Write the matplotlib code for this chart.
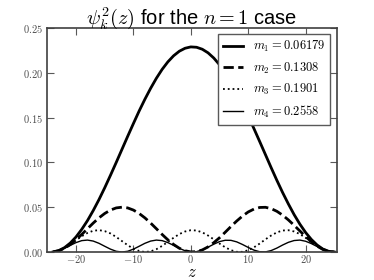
import matplotlib
matplotlib.use('Agg')
import matplotlib.pyplot as plt
from matplotlib.ticker import FuncFormatter

plt.rcParams['mathtext.fontset'] = 'cm'

# valores
z = [-24, -23, -22, -21, -20, -19, -18, -17, -16, -15, -14, -13, -12, -11, -10,
     -9, -8, -7, -6, -5, -4, -3, -2, -1, 0, 1, 2, 3, 4, 5, 6, 7, 8, 9, 10,
     11, 12, 13, 14, 15, 16, 17, 18, 19, 20, 21, 22, 23, 24, 25]

psi1 = [0.0001, 0.0016, 0.0049, 0.0100, 0.0168, 0.0253, 0.0351, 0.0463, 0.0585, 0.0717,
        0.0856, 0.0999, 0.1145, 0.1291, 0.1434, 0.1574, 0.1705, 0.1827, 0.1939, 0.2038,
        0.2122, 0.2190, 0.2241, 0.2274, 0.2289, 0.2285, 0.2263, 0.2223, 0.2165, 0.2090,
        0.2000, 0.1896, 0.1780, 0.1654, 0.1519, 0.1377, 0.1233, 0.1087, 0.0941, 0.0799,
        0.0663, 0.0536, 0.0417, 0.0311, 0.0218, 0.0140, 0.0078, 0.0033, 0.0008, 0.0]

psi2 = [0.0001, 0.0014, 0.0042, 0.0084, 0.0136, 0.0196, 0.0260, 0.0323, 0.0381, 0.0430,
        0.0468, 0.0492, 0.0500, 0.0492, 0.0468, 0.0430, 0.0381, 0.0323, 0.0260, 0.0196,
        0.0136, 0.0084, 0.0042, 0.0014, 0.0001, 0.0004, 0.0023, 0.0057, 0.0104, 0.0159,
        0.0221, 0.0285, 0.0346, 0.0401, 0.0447, 0.0479, 0.0497, 0.0499, 0.0484, 0.0454,
        0.0411, 0.0358, 0.0298, 0.0235, 0.0173, 0.0115, 0.0066, 0.0029, 0.0007, 0.0]

psi3 = [0.0001, 0.0015, 0.0044, 0.0085, 0.0131, 0.0176, 0.0213, 0.0237, 0.0244, 0.0233,
        0.0207, 0.0168, 0.0122, 0.0076, 0.0037, 0.0011, 0.0000, 0.0007, 0.0031, 0.0068,
        0.0113, 0.0159, 0.0200, 0.0229, 0.0243, 0.0240, 0.0219, 0.0184, 0.0141, 0.0094,
        0.0052, 0.0020, 0.0002, 0.0002, 0.0020, 0.0052, 0.0094, 0.0141, 0.0184, 0.0219,
        0.0240, 0.0243, 0.0229, 0.0200, 0.0159, 0.0113, 0.0068, 0.0031, 0.0007, 0.0]

psi4 = [0.0001, 0.0014, 0.0041, 0.0074, 0.0105, 0.0127, 0.0133, 0.0122, 0.0097, 0.0064,
        0.0032, 0.0008, 0.0, 0.0008, 0.0032, 0.0064, 0.0097, 0.0122, 0.0133, 0.0127,
        0.0105, 0.0074, 0.0041, 0.0014, 0.0001, 0.0004, 0.0024, 0.0054, 0.0087, 0.0116,
        0.0131, 0.0130, 0.0113, 0.0084, 0.0051, 0.0021, 0.0003, 0.0001, 0.0016, 0.0044,
        0.0078, 0.0108, 0.0128, 0.0133, 0.0120, 0.0094, 0.0061, 0.0029, 0.0007, 0.0]

masas = ['0.06179', '0.1308', '0.1901', '0.2558']

fig = plt.figure(figsize=(3.74, 2.8), dpi=100)
ax = fig.add_subplot(111)

ax.plot(z, psi1, 'k-', lw=2.0, label=r'$m_1 = %s$' % masas[0])
ax.plot(z, psi2, 'k--', lw=2.0, label=r'$m_2 = %s$' % masas[1])
ax.plot(z, psi3, 'k:', lw=1.3, label=r'$m_3 = %s$' % masas[2])
ax.plot(z, psi4, 'k-', lw=1.0, label=r'$m_4 = %s$' % masas[3])

ax.set_xlim(-25.1, 25.4)
ax.set_ylim(0, 0.25)
ax.set_xticks([-20, -10, 0, 10, 20])
ax.set_yticks([0.0, 0.05, 0.10, 0.15, 0.20, 0.25])
ax.xaxis.set_major_formatter(FuncFormatter(lambda v, p: r'$%d$' % v))
ax.yaxis.set_major_formatter(FuncFormatter(lambda v, p: r'$%.2f$' % v))
ax.tick_params(direction='in', top=True, right=True, length=5, width=0.8,
               labelsize=7.5, colors='0.35', labelcolor='0.3', pad=3)
ax.tick_params(axis='x', pad=1)
for s in ax.spines.values():
    s.set_linewidth(1.2)
    s.set_color('0.25')

ax.set_title(r'$\psi_k^2(z)$ for the $n=1$ case', fontsize=14.5,
             family='Liberation Sans', pad=3)
ax.set_xlabel(r'$z$', fontsize=12, labelpad=-1.5)

leg = ax.legend(loc='upper right', fontsize=9, fancybox=False,
                handlelength=1.6, framealpha=1)
leg.get_frame().set_edgecolor('0.35')
leg.get_frame().set_linewidth(1.0)

fig.subplots_adjust(left=0.125, right=0.9, bottom=0.1, top=0.9)
fig.savefig('out.png', dpi=100)
